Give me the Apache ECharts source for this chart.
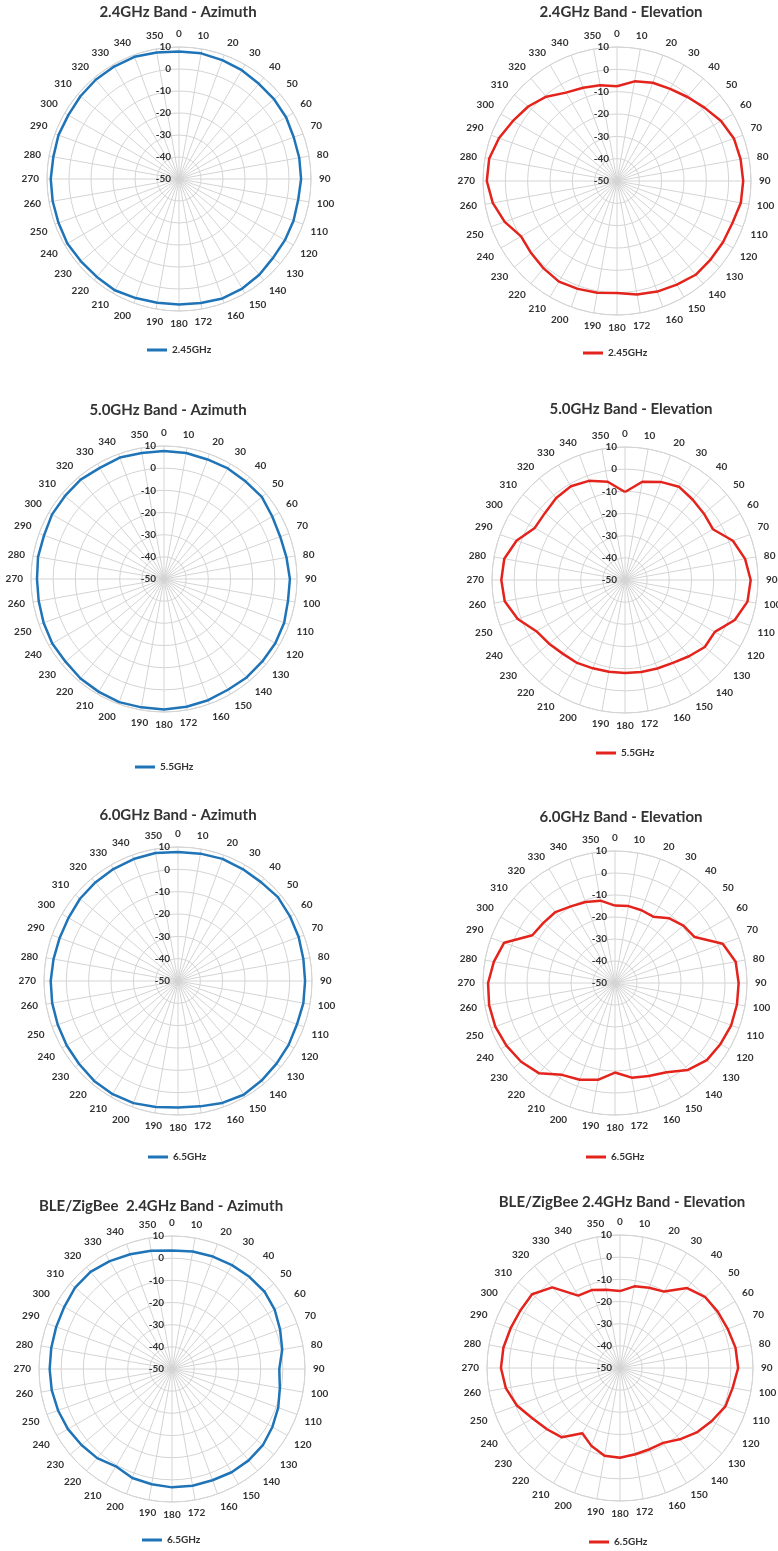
<!DOCTYPE html>
<html><head><meta charset="utf-8">
<script src="https://cdn.jsdelivr.net/npm/echarts@6/dist/echarts.min.js"></script>
<style>
html,body{margin:0;padding:0;background:#fff;width:778px;height:1551px;overflow:hidden;}
.c{position:absolute;}
</style></head><body>
<div id="c0" class="c"></div><div id="c1" class="c"></div>
<div id="c2" class="c"></div><div id="c3" class="c"></div>
<div id="c4" class="c"></div><div id="c5" class="c"></div>
<div id="c6" class="c"></div><div id="c7" class="c"></div>
<script>
// ---- data ----
const angles = [0,10,20,30,40,50,60,70,80,90,100,110,120,130,140,150,160,170,180,190,200,210,220,230,240,250,260,270,280,290,300,310,320,330,340,350];
const angleLabels = ['0','10','20','30','40','50','60','70','80','90','100','110','120','130','140','150','160','172','180','190','200','210','220','230','240','250','260','270','280','290','300','310','320','330','340','350'];
const radiusMin = -50, radiusMax = 10, radiusStep = 10;

const titles = [
  '2.4GHz Band - Azimuth', '2.4GHz Band - Elevation',
  '5.0GHz Band - Azimuth', '5.0GHz Band - Elevation',
  '6.0GHz Band - Azimuth', '6.0GHz Band - Elevation',
  'BLE/ZigBee  2.4GHz Band - Azimuth', 'BLE/ZigBee 2.4GHz Band - Elevation'
];
const seriesNames = ['2.45GHz','2.45GHz','5.5GHz','5.5GHz','6.5GHz','6.5GHz','6.5GHz','6.5GHz'];

const az24 = [7.9,8.0,7.5,7.1,6.5,6.4,6.2,5.5,5.5,5.5,5.0,5.4,5.6,5.8,6.8,7.5,7.8,7.2,7.0,7.1,7.6,8.4,8.1,8.2,8.6,8.3,8.3,8.3,8.0,8.3,8.1,8.5,8.9,9.0,9.1,8.4];
const el24 = [-7.6,-4.7,-3.2,-2.4,-0.9,1.1,3.8,5.7,6.2,6.5,6.3,5.0,4.8,4.7,4.8,3.6,2.7,1.6,0.2,0.8,1.4,2.0,1.1,0.2,-0.4,3.5,6.5,8.3,8.1,6.2,3.8,1.9,-0.7,-4.3,-5.6,-6.5];
const az50 = [7.7,7.7,7.4,7.6,7.4,7.6,6.4,5.8,6.1,6.8,6.8,7.7,8.0,7.9,8.0,7.7,8.2,8.5,8.9,8.8,9.1,8.8,8.6,8.0,8.2,7.8,7.4,7.3,7.7,7.6,8.3,8.3,8.5,7.9,8.3,7.7];
const el50 = [-10.3,-5.0,-2.9,-1.4,-2.6,-3.5,-4.2,1.8,5.0,6.7,6.1,2.7,-3.2,-3.0,-5.1,-6.8,-7.5,-7.9,-8.0,-8.0,-7.6,-6.8,-6.5,-5.3,-3.8,1.5,5.1,5.8,5.3,2.0,-3.0,-2.9,-1.7,-1.2,-2.4,-5.0];
const az60 = [7.8,7.9,8.2,7.9,7.8,8.4,7.9,7.5,7.0,6.9,7.0,6.7,7.2,7.6,8.2,8.8,8.1,7.0,6.6,7.3,8.2,8.5,8.4,7.8,7.6,7.3,7.2,7.0,6.6,6.4,6.6,7.3,7.6,7.9,8.1,8.2];
const el60 = [-14.8,-14.5,-14.8,-15.2,-11.6,-9.4,-8.2,2.1,5.7,6.2,6.3,6.2,5.4,4.5,1.6,-3.2,-5.0,-6.3,-9.3,-5.3,-3.2,-1.8,3.6,5.7,7.0,7.9,8.1,7.7,5.9,3.6,-6.6,-7.5,-7.9,-9.8,-10.8,-12.0];
const bleAz = [3.5,3.8,4.0,4.1,4.3,4.4,3.5,1.9,0.5,-1.6,-0.6,1.0,2.3,3.5,3.8,3.8,3.4,3.5,3.4,2.8,2.3,0.7,2.5,3.3,4.2,4.7,5.1,5.2,5.3,5.6,6.1,7.1,7.2,6.2,5.1,4.2];
const bleEl = [-15.3,-12.6,-11.5,-10.2,-2.9,0.0,0.9,1.7,2.9,3.3,1.6,0.6,-2.2,-4.8,-8.0,-11.0,-11.0,-10.5,-9.5,-9.8,-12.5,-16.0,-9.2,-7.0,-4.5,-0.5,2.3,3.7,3.4,2.5,1.9,1.8,-2.5,-12.3,-12.6,-14.2];
const allValues = [az24, el24, az50, el50, az60, el60, bleAz, bleEl];

// ---- layout (positions/styles only) ----
const BLUE = '#1f74b8', RED = '#e3231c';
const colors = [BLUE, RED, BLUE, RED, BLUE, RED, BLUE, RED];
const panels = [
  {l:0,   t:0,    w:389, h:390, cx:179, cy:179,  R:132, tx:178, ty:14,   lx:147, ly:351},
  {l:389, t:0,    w:389, h:390, cx:617, cy:181,  R:134, tx:621, ty:14,   lx:583, ly:354},
  {l:0,   t:390,  w:389, h:400, cx:164, cy:579,  R:133, tx:168, ty:412,  lx:135, ly:768},
  {l:389, t:390,  w:389, h:400, cx:625, cy:580,  R:133, tx:631, ty:411,  lx:596, ly:754},
  {l:0,   t:790,  w:389, h:390, cx:178, cy:981,  R:134, tx:178, ty:817,  lx:148, ly:1158},
  {l:389, t:790,  w:389, h:390, cx:615, cy:983,  R:132, tx:621, ty:819,  lx:586, ly:1158},
  {l:0,   t:1180, w:389, h:371, cx:172, cy:1369, R:133, tx:161, ty:1208, lx:142, ly:1541},
  {l:389, t:1180, w:389, h:371, cx:620, cy:1368, R:133, tx:622, ty:1204, lx:589, ly:1543}
];
const FONT = 'Lato, "Open Sans", sans-serif';
const GRID = '#d4d4d4';
const TXT = '#333333';

panels.forEach((p, i) => {
  const el = document.getElementById('c' + i);
  el.style.left = p.l + 'px'; el.style.top = p.t + 'px';
  el.style.width = p.w + 'px'; el.style.height = p.h + 'px';
  const chart = echarts.init(el, null, {renderer: 'canvas'});
  const vals = allValues[i];
  const data = vals.map((v, k) => [v, angles[k]]);
  data.push([vals[0], 360]);
  chart.setOption({
    animation: false,
    title: {
      text: titles[i], left: p.tx - p.l, top: p.ty - p.t - 9, textAlign: 'center', padding: 0,
      textStyle: {fontFamily: FONT, fontWeight: 'bold', fontSize: 15, color: TXT}
    },
    legend: {
      data: [seriesNames[i]], left: p.lx - p.l, top: p.ly - p.t - 6, padding: 0,
      icon: 'rect', itemWidth: 20, itemHeight: 3,
      textStyle: {fontFamily: FONT, fontWeight: 'bold', fontSize: 10, color: TXT}
    },
    polar: {center: [p.cx - p.l, p.cy - p.t], radius: p.R},
    angleAxis: {
      type: 'value', min: 0, max: 360, interval: 10, startAngle: 90, clockwise: true,
      axisLine: {show: true, lineStyle: {color: GRID, width: 1}},
      axisTick: {show: false},
      splitLine: {show: true, lineStyle: {color: GRID, width: 1}},
      axisLabel: {
        margin: 8, fontFamily: FONT, fontWeight: 'bold', fontSize: 10, color: TXT,
        formatter: v => { const k = angles.indexOf(v); return k >= 0 ? angleLabels[k] : ''; }
      }
    },
    radiusAxis: {
      type: 'value', min: radiusMin, max: radiusMax, interval: radiusStep,
      axisLine: {show: false}, axisTick: {show: false},
      splitLine: {show: true, lineStyle: {color: GRID, width: 1}},
      axisLabel: {margin: 8, fontFamily: FONT, fontWeight: 'bold', fontSize: 10, color: TXT}
    },
    series: [{
      name: seriesNames[i], type: 'line', coordinateSystem: 'polar',
      data: data, symbol: 'none', smooth: false,
      lineStyle: {color: colors[i], width: 2.5}, itemStyle: {color: colors[i]}
    }]
  });
});
</script>
</body></html>
